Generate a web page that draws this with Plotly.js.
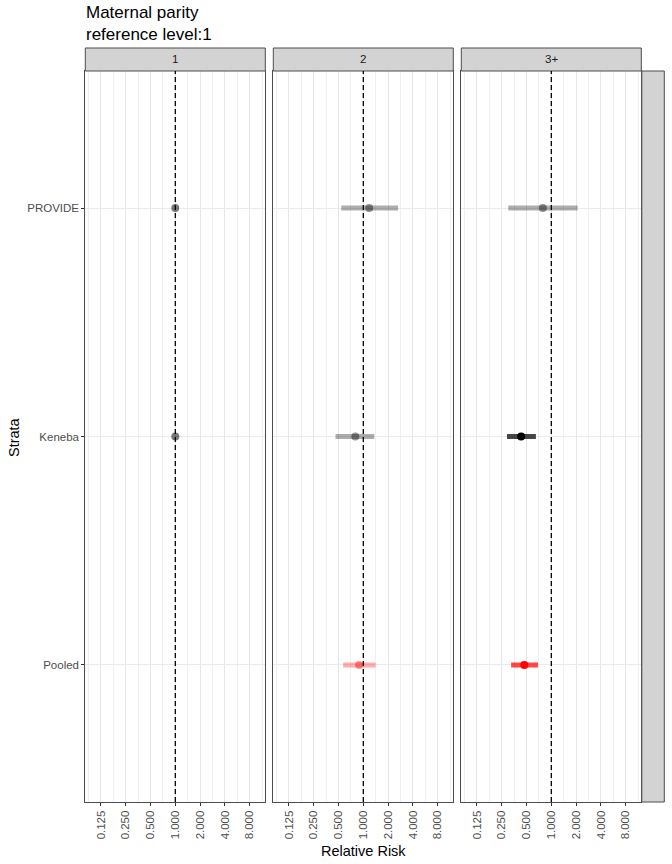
<!DOCTYPE html>
<html>
<head>
<meta charset="utf-8">
<script src="https://cdn.plot.ly/plotly-3.0.1.min.js"></script>
<style>html,body{margin:0;padding:0;background:#fff;}#chart{width:672px;height:864px;}</style>
</head>
<body>
<div id="chart"></div>
<script>
// ---- data ----
const strata = ['PROVIDE', 'Keneba', 'Pooled'];
const parityLevels = ['1', '2', '3+'];
const rrLevel1 = [1.00, 1.00, null];
const lowLevel1 = [1.00, 1.00, null];
const highLevel1 = [1.00, 1.00, null];
const rrLevel2 = [1.18, 0.80, 0.89];
const lowLevel2 = [0.54, 0.46, 0.57];
const highLevel2 = [2.65, 1.36, 1.41];
const rrLevel3 = [0.79, 0.43, 0.47];
const lowLevel3 = [0.30, 0.29, 0.325];
const highLevel3 = [2.09, 0.65, 0.69];
const tickValues = [0.125, 0.25, 0.5, 1, 2, 4, 8];
const tickLabels = ['0.125', '0.250', '0.500', '1.000', '2.000', '4.000', '8.000'];
const titleText = 'Maternal parity<br>reference level:1';
const xTitle = 'Relative Risk';
const yTitle = 'Strata';

// ---- layout constants ----
const W = 672, H = 864;
const fx = v => v / W;
const fy = v => 1 - v / H;
const panelX = [[85.3, 265.3], [273.3, 453.3], [461.3, 641.3]];
const panelTop = 71, panelBottom = 802, stripTop = 48;
const FONT = 'Liberation Sans, Arial, Helvetica, sans-serif';
const minorVals = [];
for (let k = -4; k <= 3; k++) minorVals.push(Math.pow(2, k + 0.5));

const rr = [rrLevel1, rrLevel2, rrLevel3];
const lo = [lowLevel1, lowLevel2, lowLevel3];
const hi = [highLevel1, highLevel2, highLevel3];

function colorFor(p, s, kind) {
  const red = strata[s] === 'Pooled';
  const base = red ? '255,0,0' : '0,0,0';
  const sig = p > 0 && (hi[p][s] < 1 || lo[p][s] > 1);
  let a;
  if (kind === 'bar') a = sig ? 0.72 : 0.32;
  else a = sig ? 1.0 : (p === 0 ? 0.52 : 0.42);
  return 'rgba(' + base + ',' + a + ')';
}

const traces = [];
for (let p = 0; p < 3; p++) {
  const xa = p === 0 ? 'x' : 'x' + (p + 1);
  const ya = p === 0 ? 'y' : 'y' + (p + 1);
  for (let s = 0; s < strata.length; s++) {
    if (rr[p][s] === null) continue;
    traces.push({
      type: 'scatter', mode: 'lines', xaxis: xa, yaxis: ya,
      x: [lo[p][s], hi[p][s]], y: [strata[s], strata[s]],
      line: {color: colorFor(p, s, 'bar'), width: 5},
      hoverinfo: 'skip', showlegend: false
    });
  }
  for (let s = 0; s < strata.length; s++) {
    if (rr[p][s] === null) continue;
    traces.push({
      type: 'scatter', mode: 'markers', xaxis: xa, yaxis: ya,
      x: [rr[p][s]], y: [strata[s]],
      marker: {color: colorFor(p, s, 'pt'), size: 8, line: {width: 0}},
      showlegend: false
    });
  }
}

const layout = {
  width: W, height: H,
  margin: {l: 0, r: 0, t: 0, b: 0},
  paper_bgcolor: '#ffffff', plot_bgcolor: '#ffffff',
  showlegend: false,
  font: {family: FONT, size: 11.5, color: '#4d4d4d'},
  shapes: [], annotations: []
};

const yDomain = [fy(panelBottom), fy(panelTop)];
for (let p = 0; p < 3; p++) {
  const sfx = p === 0 ? '' : String(p + 1);
  layout['xaxis' + sfx] = {
    type: 'log', domain: [fx(panelX[p][0]), fx(panelX[p][1])],
    anchor: 'y' + sfx, range: [-1.093, 1.093],
    tickmode: 'array', tickvals: tickValues, ticktext: tickLabels,
    tickangle: -90, ticks: 'outside', ticklen: 3, tickwidth: 1, tickcolor: '#333333',
    tickfont: {family: FONT, size: 11.5, color: '#4d4d4d'},
    showgrid: true, gridcolor: '#e6e6e6', gridwidth: 1,
    minor: {tickmode: 'array', tickvals: minorVals, showgrid: true, gridcolor: '#f0f0f0', gridwidth: 1, ticks: ''},
    showline: true, mirror: true, linecolor: '#4d4d4d', linewidth: 1,
    zeroline: false, fixedrange: true
  };
  layout['yaxis' + sfx] = {
    type: 'category', categoryorder: 'array', categoryarray: strata.slice().reverse(),
    domain: yDomain, anchor: 'x' + sfx, range: [-0.6, 2.6],
    showticklabels: p === 0, ticks: p === 0 ? 'outside' : '', ticklen: 3, tickwidth: 1, tickcolor: '#333333',
    tickfont: {family: FONT, size: 11.5, color: '#4d4d4d'},
    showgrid: true, gridcolor: '#ebebeb', gridwidth: 1,
    showline: true, mirror: true, linecolor: '#4d4d4d', linewidth: 1,
    zeroline: false, fixedrange: true
  };
  if (p > 0) layout['yaxis' + sfx].matches = 'y';
  // strip
  layout.shapes.push({
    type: 'rect', xref: 'paper', yref: 'paper',
    x0: fx(panelX[p][0]), x1: fx(panelX[p][1]), y0: fy(panelTop), y1: fy(stripTop),
    fillcolor: '#d3d3d3', line: {color: '#4d4d4d', width: 1}
  });
  layout.annotations.push({
    xref: 'paper', yref: 'paper', x: fx((panelX[p][0] + panelX[p][1]) / 2), y: fy((panelTop + stripTop) / 2),
    text: parityLevels[p], showarrow: false, xanchor: 'center', yanchor: 'middle',
    font: {family: FONT, size: 11.5, color: '#1a1a1a'}
  });
  // reference line at RR = 1
  layout.shapes.push({
    type: 'line', xref: 'x' + sfx, yref: 'y' + sfx + ' domain',
    x0: 1, x1: 1, y0: 0, y1: 1, layer: 'above',
    line: {color: '#000000', width: 1.3, dash: '5px,3px'}
  });
}
// empty right-hand strip
layout.shapes.push({
  type: 'rect', xref: 'paper', yref: 'paper',
  x0: fx(641.8), x1: fx(664.3), y0: fy(panelBottom), y1: fy(panelTop),
  fillcolor: '#d3d3d3', line: {color: '#4d4d4d', width: 1}
});
// title
layout.annotations.push({
  xref: 'paper', yref: 'paper', x: fx(84.3), y: fy(23.5),
  text: titleText, showarrow: false, xanchor: 'left', yanchor: 'middle', align: 'left',
  font: {family: FONT, size: 17, color: '#000000'}
});
// axis titles
layout.annotations.push({
  xref: 'paper', yref: 'paper', x: fx(363), y: fy(851),
  text: xTitle, showarrow: false, xanchor: 'center', yanchor: 'middle',
  font: {family: FONT, size: 14.5, color: '#000000'}
});
layout.annotations.push({
  xref: 'paper', yref: 'paper', x: fx(14), y: fy(437),
  text: yTitle, showarrow: false, xanchor: 'center', yanchor: 'middle', textangle: -90,
  font: {family: FONT, size: 14.5, color: '#000000'}
});

Plotly.newPlot('chart', traces, layout, {staticPlot: true, displayModeBar: false});
</script>
</body>
</html>
